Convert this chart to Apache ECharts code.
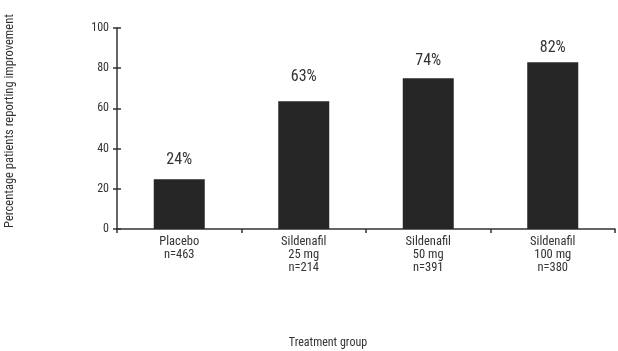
<!DOCTYPE html>
<html>
<head>
<meta charset="utf-8">
<script src="https://cdn.jsdelivr.net/npm/echarts@6/dist/echarts.min.js"></script>
<style>
  html, body { margin: 0; padding: 0; background: #fff; }
  #chart { width: 618px; height: 351px; }
</style>
</head>
<body>
<div id="chart"></div>
<script>
// data
const categories = ["Placebo\nn=463", "Sildenafil\n25 mg\nn=214", "Sildenafil\n50 mg\nn=391", "Sildenafil\n100 mg\nn=380"];
const improvement = [24.8, 63.6, 75, 83];
const valueLabels = ["24%", "63%", "74%", "82%"];

// the value labels do not sit at a constant height above their bars
const labelGaps = [11, 16, 9, 6];

const font = '"Liberation Sans Narrow", "Arial Narrow", "Roboto Condensed", "Liberation Sans", sans-serif';
const ink = "#333333";

const chart = echarts.init(document.getElementById("chart"));

chart.setOption({
  backgroundColor: "#ffffff",
  animation: false,
  textStyle: { fontFamily: font },
  grid: { left: 117, right: 3, top: 28, bottom: 122, containLabel: false, outerBoundsMode: "none" },

  // axis titles placed as in the original (not centred on the axes)
  graphic: [
    {
      type: "text",
      x: 10,
      y: 121,
      rotation: Math.PI / 2,
      style: {
        text: "Percentage patients reporting improvement",
        fill: ink,
        font: `12.5px ${font}`,
        textAlign: "center",
        textVerticalAlign: "middle",
      },
    },
    {
      type: "text",
      x: 328,
      y: 343,
      style: {
        text: "Treatment group",
        fill: ink,
        font: `12px ${font}`,
        textAlign: "center",
        textVerticalAlign: "middle",
      },
    },
  ],

  xAxis: {
    type: "category",
    data: categories,
    axisLine: { lineStyle: { color: ink, width: 1.5 } },
    axisTick: { show: true, length: 4, lineStyle: { color: ink, width: 1.5 } },
    axisLabel: { color: ink, fontSize: 12.5, lineHeight: 13, margin: 6, fontFamily: font },
  },

  yAxis: [
    {
      type: "value",
      min: 0,
      max: 100,
      interval: 20,
      axisLine: { show: true, lineStyle: { color: ink, width: 1.5 } },
      axisTick: { show: true, length: 4, lineStyle: { color: ink, width: 1.5 } },
      axisLabel: { color: ink, fontSize: 12, margin: 8, fontFamily: font },
      splitLine: { show: false },
    },
    {
      // inside ticks so each tick crosses the axis
      type: "value",
      position: "left",
      offset: 0,
      min: 0,
      max: 100,
      interval: 20,
      axisLine: { show: false },
      axisTick: { show: true, inside: true, length: 4, lineStyle: { color: ink, width: 1.5 } },
      axisLabel: { show: false },
      splitLine: { show: false },
    },
  ],

  series: [
    {
      type: "bar",
      barWidth: 51,
      itemStyle: { color: "#262626" },
      data: improvement.map((v, i) => ({
        value: v,
        label: { distance: labelGaps[i] },
      })),
      label: {
        show: true,
        position: "top",
        color: ink,
        fontSize: 16,
        fontFamily: font,
        formatter: (p) => valueLabels[p.dataIndex],
      },
    },
  ],
});
</script>
</body>
</html>
